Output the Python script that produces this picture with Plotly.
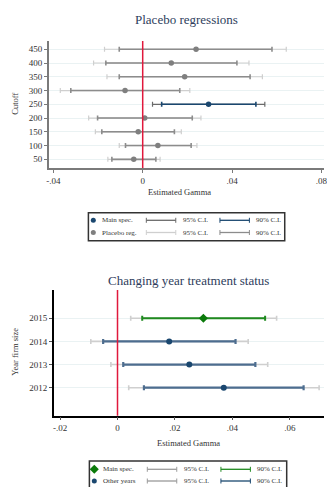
import plotly.graph_objects as go

# ---------------- data: top panel (placebo regressions) ----------------
cutoffs = [50, 100, 150, 200, 250, 300, 350, 400, 450]
est_p = [-0.0040, 0.0068, -0.0020, 0.0009, 0.0295, -0.0079, 0.0188, 0.0128, 0.0239]
lo90_p = [-0.0138, -0.0077, -0.0183, -0.0202, 0.0085, -0.0322, -0.0105, -0.0165, -0.0105]
hi90_p = [0.0059, 0.0217, 0.0142, 0.0222, 0.0507, 0.0166, 0.0481, 0.0422, 0.0579]
lo95_p = [-0.0156, -0.0105, -0.0212, -0.0242, 0.0044, -0.0369, -0.0160, -0.0220, -0.0171]
hi95_p = [0.0078, 0.0243, 0.0173, 0.0261, 0.0547, 0.0211, 0.0536, 0.0476, 0.0643]
main_cutoff = 250

# ---------------- data: bottom panel (year treatment status) ----------------
years = [2012, 2013, 2014, 2015]
est_y = [0.0370, 0.0250, 0.0180, 0.0299]
lo90_y = [0.0092, 0.0020, -0.0050, 0.0086]
hi90_y = [0.0648, 0.0480, 0.0411, 0.0514]
lo95_y = [0.0039, -0.0023, -0.0093, 0.0046]
hi95_y = [0.0702, 0.0523, 0.0455, 0.0554]
main_year = 2015

top_xticks = [-0.04, 0, 0.04, 0.08]
top_xlabels = ["-.04", "0", ".04", ".08"]
bot_xticks = [-0.02, 0, 0.02, 0.04, 0.06]
bot_xlabels = ["-.02", "0", ".02", ".04", ".06"]

NAVY = "#1a476f"
NAVY_L = "#4d6d8f"
GREEN = "#1f8a1f"
GREEN_M = "#0a7a0a"
GRAY_PT = "#7f7f7f"
GRAY_90 = "#8c8c8c"
GRAY_95 = "#cfcfcf"
DARK_95 = "#6a6a6a"
RED = "#e0183c"
GRID = "#eaf2f3"
FONT = "Liberation Serif"
W, H = 327, 487

fig = go.Figure()


def ci_trace(x, y, lo, hi, color, thick, cap, xa, ya):
    return go.Scatter(
        x=x, y=y, mode="markers", xaxis=xa, yaxis=ya, showlegend=False, hoverinfo="skip",
        marker=dict(size=0, color="rgba(0,0,0,0)"),
        error_x=dict(type="data", symmetric=False,
                     array=[h - e for h, e in zip(hi, x)],
                     arrayminus=[e - l for e, l in zip(x, lo)],
                     color=color, thickness=thick, width=cap))


def subset(idx, *lists):
    return [[l[i] for i in idx] for l in lists]


# top panel
pl = [i for i, c in enumerate(cutoffs) if c != main_cutoff]
mn = [i for i, c in enumerate(cutoffs) if c == main_cutoff]
e, c, l95, h95, l90, h90 = subset(pl, est_p, cutoffs, lo95_p, hi95_p, lo90_p, hi90_p)
fig.add_trace(ci_trace(e, c, l95, h95, GRAY_95, 1.2, 2.5, "x", "y"))
fig.add_trace(ci_trace(e, c, l90, h90, GRAY_90, 1.6, 2.5, "x", "y"))
fig.add_trace(go.Scatter(x=e, y=c, mode="markers", marker=dict(size=5.5, color=GRAY_PT),
                         showlegend=False, xaxis="x", yaxis="y"))
e, c, l95, h95, l90, h90 = subset(mn, est_p, cutoffs, lo95_p, hi95_p, lo90_p, hi90_p)
fig.add_trace(ci_trace(e, c, l95, h95, DARK_95, 1.2, 2.5, "x", "y"))
fig.add_trace(ci_trace(e, c, l90, h90, NAVY, 1.6, 2.5, "x", "y"))
fig.add_trace(go.Scatter(x=e, y=c, mode="markers", marker=dict(size=5.5, color=NAVY),
                         showlegend=False, xaxis="x", yaxis="y"))

# bottom panel
oy = [i for i, yv in enumerate(years) if yv != main_year]
my = [i for i, yv in enumerate(years) if yv == main_year]
e, c, l95, h95, l90, h90 = subset(oy, est_y, years, lo95_y, hi95_y, lo90_y, hi90_y)
fig.add_trace(ci_trace(e, c, l95, h95, GRAY_95, 1.6, 2.5, "x2", "y2"))
fig.add_trace(ci_trace(e, c, l90, h90, NAVY_L, 2.2, 2.5, "x2", "y2"))
fig.add_trace(go.Scatter(x=e, y=c, mode="markers", marker=dict(size=6, color=NAVY),
                         showlegend=False, xaxis="x2", yaxis="y2"))
e, c, l95, h95, l90, h90 = subset(my, est_y, years, lo95_y, hi95_y, lo90_y, hi90_y)
fig.add_trace(ci_trace(e, c, l95, h95, GRAY_95, 1.6, 2.5, "x2", "y2"))
fig.add_trace(ci_trace(e, c, l90, h90, GREEN, 2.0, 2.5, "x2", "y2"))
fig.add_trace(go.Scatter(x=e, y=c, mode="markers", marker=dict(size=7, color=GREEN_M, symbol="diamond"),
                         showlegend=False, xaxis="x2", yaxis="y2"))

tickfont = dict(family=FONT, size=9, color="#333333")

fig.update_layout(
    width=W, height=H, margin=dict(l=0, r=0, t=0, b=0),
    paper_bgcolor="white", plot_bgcolor="rgba(0,0,0,0)",
    font=dict(family=FONT, color="#333333"),
    xaxis=dict(domain=[47 / W, 1], range=[-0.0419, 0.0812], tickvals=top_xticks, ticktext=top_xlabels,
               showgrid=False, zeroline=False, showline=True, linecolor="#7a7a7a", linewidth=2,
               ticks="outside", ticklen=3, tickcolor="#7a7a7a", tickfont=tickfont, anchor="y",
               ticklabeloverflow="allow"),
    yaxis=dict(domain=[1 - 168 / H, 1 - 41 / H], range=[18.5, 480], tickvals=cutoffs,
               showgrid=True, gridcolor=GRID, gridwidth=1, zeroline=False, showline=True,
               linecolor="#7a7a7a", linewidth=2, ticks="outside", ticklen=3, tickcolor="#7a7a7a",
               tickfont=tickfont, anchor="x"),
    xaxis2=dict(domain=[51.7 / W, 1], range=[-0.0222, 0.0719], tickvals=bot_xticks, ticktext=bot_xlabels,
                showgrid=False, zeroline=False, showline=True, linecolor="black", linewidth=1.5,
                ticks="outside", ticklen=3, tickcolor="#555555", tickfont=tickfont, anchor="y2",
                ticklabeloverflow="allow"),
    yaxis2=dict(domain=[1 - 415.7 / H, 1 - 290 / H], range=[2010.79, 2016.22], tickvals=years,
                showgrid=True, gridcolor=GRID, gridwidth=1, zeroline=False, showline=True,
                linecolor="black", linewidth=1.5, ticks="outside", ticklen=3, tickcolor="#555555",
                tickfont=tickfont, anchor="x2"),
    xaxis3=dict(domain=[0, 1], range=[0, 1], visible=False, anchor="y3"),
    yaxis3=dict(domain=[0, 1], range=[0, 1], visible=False, anchor="x3"),
)

# zero reference lines
fig.add_shape(type="line", xref="x", yref="y domain", x0=0, x1=0, y0=0, y1=1,
              line=dict(color=RED, width=1.5))
fig.add_shape(type="line", xref="x2", yref="y2 domain", x0=0, x1=0, y0=0, y1=1,
              line=dict(color=RED, width=1.5))


def px(xp, yp):
    return xp / W, 1 - yp / H


def ann(text, xp, yp, size, color="#333333", angle=0, xanchor="center"):
    x, y = px(xp, yp)
    fig.add_annotation(text=text, x=x, y=y, xref="paper", yref="paper", showarrow=False,
                       font=dict(family=FONT, size=size, color=color), textangle=angle,
                       xanchor=xanchor, yanchor="middle")


# titles and axis titles
ann("Placebo regressions", 187, 20, 13, color="#2e3d5c")
ann("Changing year treatment status", 189, 280, 13, color="#2e3d5c")
ann("Estimated Gamma", 180, 191.5, 8.5)
ann("Estimated Gamma", 189, 442.5, 8.5)
ann("Cutoff", 12, 104, 8.5, angle=-90)
ann("Year firm size", 12, 352, 8.5, angle=-90)


def legend_box(x0, y0, x1, y1, rows):
    a0, b0 = px(x0, y0)
    a1, b1 = px(x1, y1)
    fig.add_shape(type="rect", xref="paper", yref="paper", x0=a0, y0=b1, x1=a1, y1=b0,
                  line=dict(color="#333333", width=1.5), fillcolor="rgba(0,0,0,0)")
    for (yy, mcol, msym, label, c95, c90) in rows:
        mx, my_ = px(x0 + 5, yy)
        fig.add_trace(go.Scatter(x=[mx], y=[my_], xaxis="x3", yaxis="y3", mode="markers",
                                 marker=dict(size=5 if msym == "circle" else 7, color=mcol, symbol=msym),
                                 showlegend=False, hoverinfo="skip"))
        ann(label, x0 + 12, yy, 7, xanchor="left")
        for (lx0, lx1, col, txt) in [(x0 + 59, x0 + 89, c95, "95% C.I."),
                                     (x0 + 134, x0 + 164, c90, "90% C.I.")]:
            p0 = px(lx0, yy)
            p1 = px(lx1, yy)
            fig.add_shape(type="line", xref="paper", yref="paper", x0=p0[0], x1=p1[0], y0=p0[1], y1=p1[1],
                          line=dict(color=col, width=1.3))
            for cx in (lx0, lx1):
                q0 = px(cx, yy - 2.5)
                q1 = px(cx, yy + 2.5)
                fig.add_shape(type="line", xref="paper", yref="paper", x0=q0[0], x1=q1[0], y0=q0[1], y1=q1[1],
                              line=dict(color=col, width=1))
            ann(txt, lx1 + 5, yy, 7, xanchor="left")


legend_box(87, 212.7, 287, 240.7, [
    (220.3, NAVY, "circle", "Main spec.", DARK_95, NAVY),
    (232.5, GRAY_PT, "circle", "Placebo reg.", GRAY_95, GRAY_90),
])
legend_box(88, 461, 289, 492, [
    (469.3, GREEN_M, "diamond", "Main spec.", "#9a9a9a", GREEN),
    (481, NAVY, "circle", "Other years", "#9a9a9a", NAVY),
])

fig.write_html("out.html")
